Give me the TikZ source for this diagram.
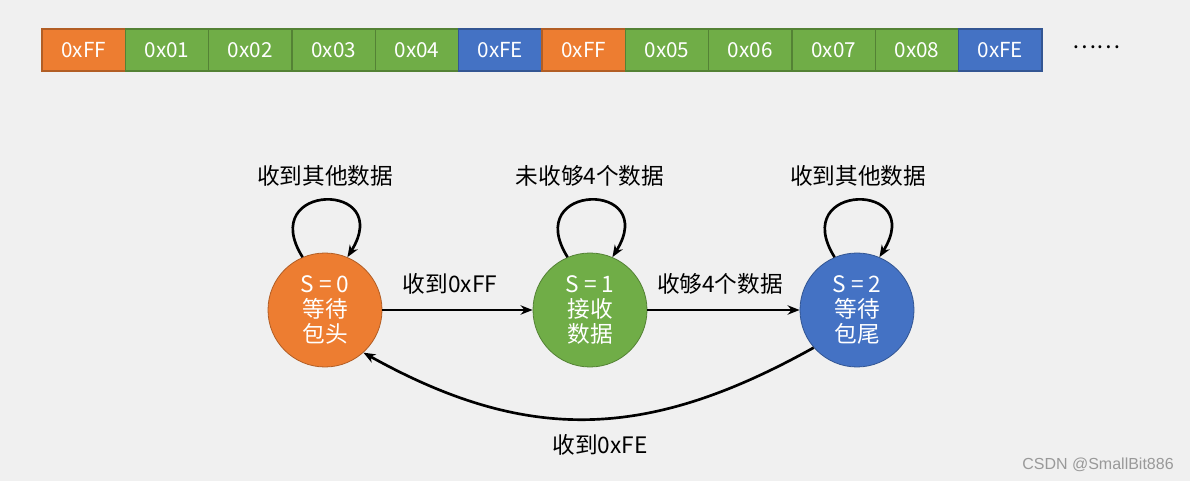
\documentclass[tikz,border=0pt]{standalone}
\usepackage{fontspec}
\setmainfont{Noto Sans CJK SC}
\newfontfamily\markfont{Liberation Sans}
\usetikzlibrary{arrows.meta}
\definecolor{bgc}{HTML}{F0F0F0}
\definecolor{orgc}{HTML}{ED7D31}
\definecolor{grnc}{HTML}{70AD47}
\definecolor{bluc}{HTML}{4472C4}
\tikzset{
  cell/.style={draw, line width=0.8pt, text=white, minimum width=62.5pt, minimum height=31.5pt,
    inner sep=0pt, font=\fontsize{15.5}{18}\selectfont},
  orgcell/.style={cell, fill=orgc, draw=orgc!75!black},
  grncell/.style={cell, fill=grnc, draw=grnc!75!black},
  blucell/.style={cell, fill=bluc, draw=bluc!75!black},
  state/.style={circle, draw, line width=0.6pt, minimum size=85.5pt, inner sep=0pt, text=white,
    align=center, font=\fontsize{17}{19}\selectfont},
  lbl/.style={font=\fontsize{17}{20}\selectfont},
  arr/.style={line width=2pt, -{Stealth[length=9pt, width=7pt]}}
}
\begin{document}
\begin{tikzpicture}[x=0.75pt, y=-0.75pt]
  \fill[bgc] (0,0) rectangle (1190,481);
  \useasboundingbox (0,0) rectangle (1190,481);

  % Datenstrom (Bytes)
  \foreach \t/\s [count=\i] in {0xFF/orgcell, 0x01/grncell, 0x02/grncell, 0x03/grncell, 0x04/grncell, 0xFE/blucell,
      0xFF/orgcell, 0x05/grncell, 0x06/grncell, 0x07/grncell, 0x08/grncell, 0xFE/blucell}
    \node[\s] (b\i) at ({42+83.333*(\i-0.5)},50) {\t};
  \node[lbl] (more) at (1096,47) {……};

  % Zustaende
  \node[state, fill=orgc, draw=orgc!75!black] (s0) at (325,310) {S = 0\\等待\\包头};
  \node[state, fill=grnc, draw=grnc!75!black] (s1) at (590,310) {S = 1\\接收\\数据};
  \node[state, fill=bluc, draw=bluc!75!black] (s2) at (857,310) {S = 2\\等待\\包尾};

  % Schleifen
  \draw[arr] (s0.113) .. controls +(-47,-75) and +(48,-77) .. (s0.67);
  \draw[arr] (s1.113) .. controls +(-47,-75) and +(48,-77) .. (s1.67);
  \draw[arr] (s2.113) .. controls +(-47,-75) and +(48,-77) .. (s2.67);
  \node[lbl] (l0) at (325,176) {收到其他数据};
  \node[lbl] (l1) at (590,176) {未收够4个数据};
  \node[lbl] (l2) at (858,176) {收到其他数据};

  % Uebergaenge
  \draw[arr] (s0) -- (s1);
  \draw[arr] (s1) -- (s2);
  \node[lbl] (t01) at (450,284) {收到0xFF};
  \node[lbl] (t12) at (720,284) {收够4个数据};

  \draw[arr] (s2.221.6) .. controls +(-165,92) and +(165,92) .. (s0.312);
  \node[lbl] (t20) at (600,445) {收到0xFE};

  \node[text=black!40, font=\markfont\fontsize{12}{14}\selectfont] (wm) at (1098,465) {CSDN @SmallBit886};
\end{tikzpicture}
\end{document}
